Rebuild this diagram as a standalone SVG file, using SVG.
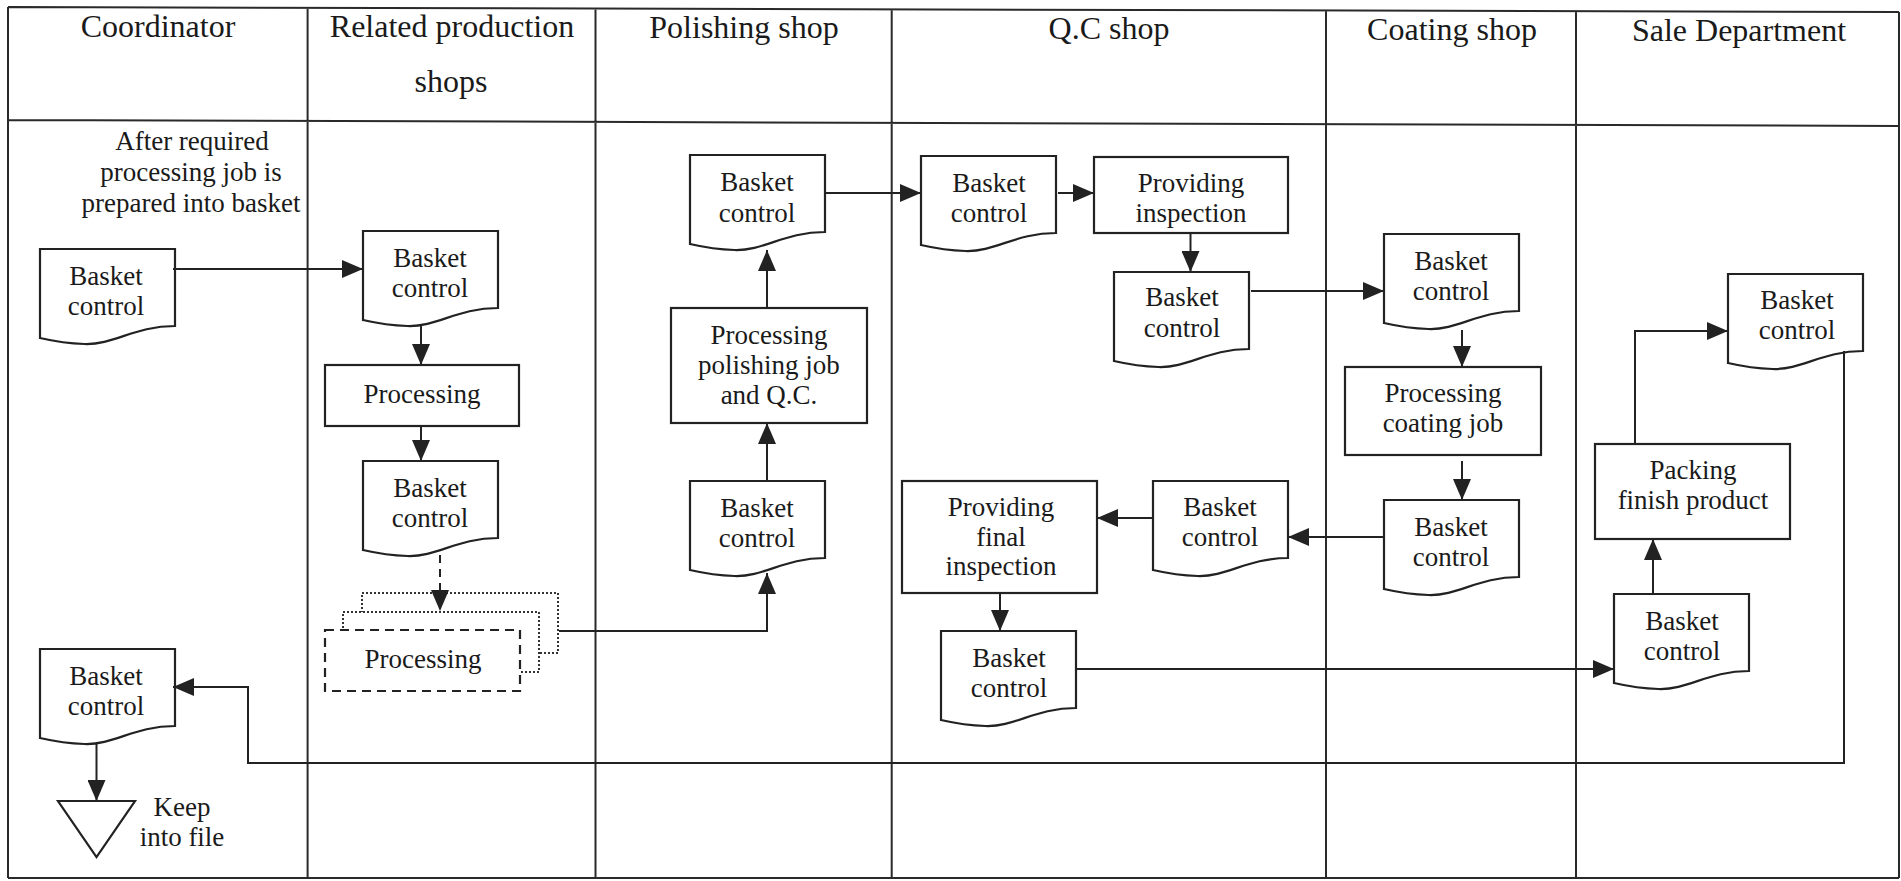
<svg xmlns="http://www.w3.org/2000/svg" xmlns:xlink="http://www.w3.org/1999/xlink" width="1901" height="881" viewBox="0 0 1901 881">
<style>
.lane{stroke:#2a2a2a;stroke-width:2;fill:none}
.shape{fill:#fff;stroke:#222;stroke-width:2.2}
.dash{fill:#fff;stroke:#222;stroke-width:2.2;stroke-dasharray:9 6}
.dot{fill:#fff;stroke:#333;stroke-width:2;stroke-dasharray:2 2}
.conn{fill:none;stroke:#222;stroke-width:2;marker-end:url(#arr)}
.conn.dashed{stroke-dasharray:8 6}
text{font-family:"Liberation Serif","Times New Roman",serif;fill:#1a1a1a;text-anchor:middle;font-size:27px}
text.h{font-size:32px}
</style>
<defs>
<marker id="arr" markerUnits="userSpaceOnUse" markerWidth="22" markerHeight="18" refX="21" refY="9" orient="auto"><path d="M0,0 L21,9 L0,18 Z" fill="#222"/></marker>
<path id="doc" d="M0,0 H135 V77 C94.5,77 74,96 44.5,95 C27,94.5 13,92 0,89 Z"/>
</defs>
<rect width="1901" height="881" fill="#fff"/>
<g id="lanes">
<path class="lane" d="M8,7 L1899,12 M8,120 L1899,126 M8,878 L1899,878 M8,7 V878 M1899,12 V878 M307.6,7.8 V878 M595.5,8.5 V878 M891.7,9.3 V878 M1326,10.5 V878 M1576,11.1 V878"/>
<text class="h" x="158" y="37">Coordinator</text>
<text class="h" x="452" y="37">Related production</text>
<text class="h" x="451" y="92">shops</text>
<text class="h" x="744" y="38">Polishing shop</text>
<text class="h" x="1109" y="39">Q.C shop</text>
<text class="h" x="1452" y="40">Coating shop</text>
<text class="h" x="1739" y="41">Sale Department</text>
</g>
<g id="note-start">
<text x="192" y="150">After required</text>
<text x="191" y="181">processing job is</text>
<text x="191" y="212">prepared into basket</text>
</g>
<g id="coord-basket-1"><use href="#doc" class="shape" transform="translate(40,249)"/><text x="106" y="285">Basket</text><text x="106" y="315">control</text></g>
<g id="related-basket-1"><use href="#doc" class="shape" transform="translate(363,231)"/><text x="430" y="267">Basket</text><text x="430" y="297">control</text></g>
<g id="related-processing"><rect class="shape" x="325" y="365" width="194" height="61"/><text x="422" y="403">Processing</text></g>
<g id="related-basket-2"><use href="#doc" class="shape" transform="translate(363,461)"/><text x="430" y="497">Basket</text><text x="430" y="527">control</text></g>
<g id="related-processing-multi">
<rect class="dot" x="362" y="593" width="196" height="60"/>
<rect class="dot" x="343" y="612" width="196" height="60"/>
<rect class="dash" x="325" y="630" width="195" height="61"/>
<text x="423" y="668">Processing</text>
</g>
<g id="polish-basket-in"><use href="#doc" class="shape" transform="translate(690,481)"/><text x="757" y="517">Basket</text><text x="757" y="547">control</text></g>
<g id="polish-processing"><rect class="shape" x="671" y="308" width="196" height="115"/><text x="769" y="344">Processing</text><text x="769" y="374">polishing job</text><text x="769" y="404">and Q.C.</text></g>
<g id="polish-basket-out"><use href="#doc" class="shape" transform="translate(690,155)"/><text x="757" y="191">Basket</text><text x="757" y="222">control</text></g>
<g id="qc-basket-1"><use href="#doc" class="shape" transform="translate(921,156)"/><text x="989" y="192">Basket</text><text x="989" y="222">control</text></g>
<g id="qc-inspection"><rect class="shape" x="1094" y="157" width="194" height="76"/><text x="1191" y="192">Providing</text><text x="1191" y="222">inspection</text></g>
<g id="qc-basket-2"><use href="#doc" class="shape" transform="translate(1114,272)"/><text x="1182" y="306">Basket</text><text x="1182" y="337">control</text></g>
<g id="coat-basket-1"><use href="#doc" class="shape" transform="translate(1384,234)"/><text x="1451" y="270">Basket</text><text x="1451" y="300">control</text></g>
<g id="coat-processing"><rect class="shape" x="1345" y="367" width="196" height="88"/><text x="1443" y="402">Processing</text><text x="1443" y="432">coating job</text></g>
<g id="coat-basket-2"><use href="#doc" class="shape" transform="translate(1384,500)"/><text x="1451" y="536">Basket</text><text x="1451" y="566">control</text></g>
<g id="qc-basket-3"><use href="#doc" class="shape" transform="translate(1153,481)"/><text x="1220" y="516">Basket</text><text x="1220" y="546">control</text></g>
<g id="qc-final-inspection"><rect class="shape" x="902" y="481" width="195" height="112"/><text x="1001" y="516">Providing</text><text x="1001" y="546">final</text><text x="1001" y="575">inspection</text></g>
<g id="qc-basket-4"><use href="#doc" class="shape" transform="translate(941,631)"/><text x="1009" y="667">Basket</text><text x="1009" y="697">control</text></g>
<g id="sale-basket-1"><use href="#doc" class="shape" transform="translate(1614,594)"/><text x="1682" y="630">Basket</text><text x="1682" y="660">control</text></g>
<g id="sale-packing"><rect class="shape" x="1595" y="444" width="195" height="95"/><text x="1693" y="479">Packing</text><text x="1693" y="509">finish product</text></g>
<g id="sale-basket-2"><use href="#doc" class="shape" transform="translate(1728,274)"/><text x="1797" y="309">Basket</text><text x="1797" y="339">control</text></g>
<g id="coord-basket-2"><use href="#doc" class="shape" transform="translate(40,649)"/><text x="106" y="685">Basket</text><text x="106" y="715">control</text></g>
<g id="coord-file"><polygon class="shape" points="58,801 135,801 96.5,857"/><text x="182" y="816">Keep</text><text x="182" y="846">into file</text></g>
<g id="connectors">
<path class="conn" d="M173,269 H363"/>
<path class="conn" d="M421,326 V365"/>
<path class="conn" d="M421,427 V461"/>
<path class="conn dashed" d="M440,555 V611"/>
<path class="conn" d="M559,631 H767 V573"/>
<path class="conn" d="M767,480 V423"/>
<path class="conn" d="M767,307 V250"/>
<path class="conn" d="M826,193 H921"/>
<path class="conn" d="M1058,193 H1094"/>
<path class="conn" d="M1190.5,234 V272"/>
<path class="conn" d="M1251,291 H1384"/>
<path class="conn" d="M1462,330 V367"/>
<path class="conn" d="M1462,461 V500"/>
<path class="conn" d="M1383,537 H1288"/>
<path class="conn" d="M1152,518 H1097"/>
<path class="conn" d="M1000,594 V631"/>
<path class="conn" d="M1076,669 H1614"/>
<path class="conn" d="M1653,593 V539"/>
<path class="conn" d="M1635,443 V331 H1728"/>
<path class="conn" d="M1844,351 V763 H248 V687 H173"/>
<path class="conn" d="M96.5,744 V801"/>
</g>
</svg>
